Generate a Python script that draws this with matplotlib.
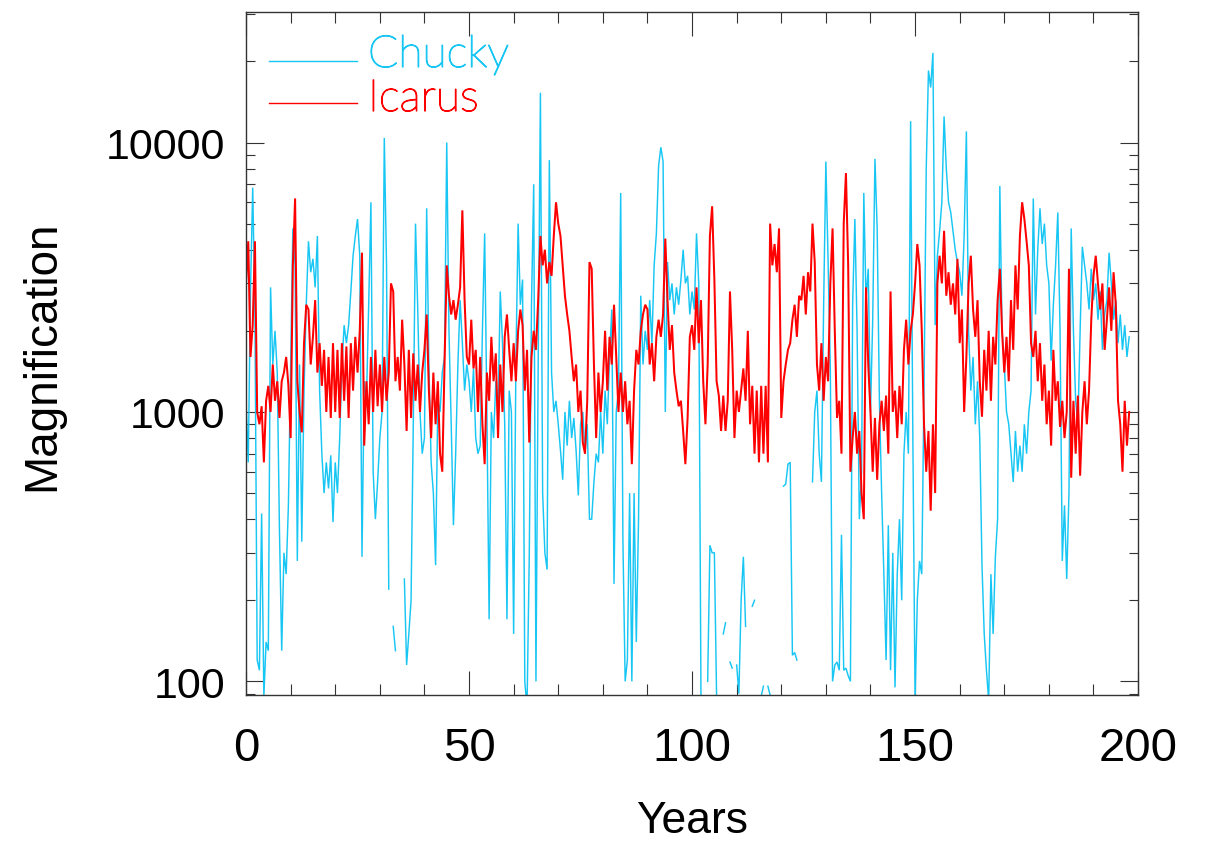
import numpy as np
import matplotlib
matplotlib.use("Agg")
import matplotlib.pyplot as plt
import matplotlib.patheffects as pe
from matplotlib import font_manager
from matplotlib.ticker import FixedLocator, FixedFormatter, LogLocator, MultipleLocator, NullFormatter

nan = float("nan")  # no measurement at this sample

# Sampling interval of both series, in years
SAMPLE_STEP = 0.5

# Magnification of "Chucky", one row per decade (samples every half year)
chucky = [
    1100, 650, 2800, 6800, 2300, 120, 110, 420, 88, 140, 130, 2900, 1500, 2000, 1400, 360, 130, 300, 250, 450,
    1500, 4800, 3500, 280, 1500, 330, 1200, 2500, 4300, 3300, 3700, 2900, 4500, 1200, 700, 500, 650, 520, 690, 390,
    650, 500, 800, 1500, 2100, 1800, 2100, 2800, 3800, 4500, 5200, 3800, 290, 1300, 1100, 2500, 6000, 600, 400, 550,
    800, 1000, 10400, 3500, 220, nan, 160, 130, nan, nan, nan, 240, 115, 150, 200, 900, 5000, 2400, 1000, 700,
    800, 5700, 1500, 650, 500, 270, 1100, 1000, 1400, 1600, 10000, 2000, 900, 380, 700, 1500, 2600, 1800, 1200, 1500,
    1300, 1000, 1450, 800, 700, 750, 2000, 4600, 1000, 170, 1000, 800, 1300, 1000, 2800, 1800, 900, 170, 1200, 1000,
    150, 1500, 5000, 2500, 3100, 100, 80, 290, 2500, 7000, 100, 1500, 15300, 500, 300, 260, 8600, 1400, 1000, 1100,
    900, 720, 560, 1000, 750, 1100, 800, 950, 720, 490, 900, 1000, 700, 900, 400, 400, 550, 700, 650, 1000,
    700, 1200, 900, 1600, 2400, 230, 1000, 1200, 6500, 330, 100, 120, 500, 100, 500, 140, 400, 2700, 1500, 2000,
    1700, 2600, 1800, 3500, 4600, 8200, 9600, 8500, 1000, 3600, 2600, 3000, 2300, 2900, 2500, 3100, 4000, 3000, 3200, 2300,
    2800, 2400, 4600, 3000, 85, 88, nan, 100, 320, 300, 300, 88, 86, nan, 150, 165, nan, 118, 112, nan,
    115, 90, 200, 290, 160, nan, nan, 190, 200, nan, nan, 88, 96, nan, 96, 89, nan, nan, nan, nan,
    nan, 530, 540, 640, 650, 125, 128, 120, nan, nan, nan, nan, nan, nan, 550, 1000, 1200, 700, 550, 2500,
    8500, 3600, 1450, 100, 115, 118, 110, 350, 110, 112, 105, 100, 2500, 5200, 2000, 400, 600, 6500, 2600, 3400,
    1000, 2200, 8700, 4800, 1100, 500, 250, 120, 380, 110, 300, 95, 250, 400, 200, 700, 1000, 700, 12000, 800,
    85, 200, 280, 250, 1200, 8000, 18500, 16000, 21500, 2100, 3800, 4700, 6000, 12500, 8000, 6000, 5500, 4700, 4000, 3600,
    3300, 2700, 4500, 11000, 2000, 1200, 1600, 900, 1300, 800, 270, 150, 110, 85, 250, 150, 290, 400, 6900, 2000,
    1500, 1000, 900, 700, 550, 850, 600, 750, 600, 900, 700, 1000, 1200, 6200, 2300, 4000, 5700, 4200, 5000, 3500,
    3000, 1550, 2500, 3500, 5500, 2000, 280, 450, 240, 500, 4800, 2000, 1100, 900, 2000, 4100, 3500, 3000, 2400, 3400,
    2600, 3000, 2200, 2800, 1700, 2300, 2600, 3900, 3000, 2200, 2600, 1800, 2300, 1700, 2100, 1600, 1900,
]

# Magnification of "Icarus", same sampling
icarus = [
    3000, 4300, 1600, 2100, 4300, 1000, 900, 1050, 650, 1100, 1250, 1000, 1500, 1100, 1300, 950, 1300, 1400, 1600, 1250,
    800, 3500, 6200, 1300, 1000, 840, 1800, 2500, 2400, 1500, 1900, 2600, 1400, 1800, 1250, 1700, 1000, 1600, 950, 1800,
    1000, 1700, 950, 1800, 1100, 1750, 950, 1800, 1200, 1900, 1400, 2000, 3900, 750, 1300, 900, 1600, 1000, 1700, 1050,
    1500, 1000, 1600, 1100, 1400, 3000, 2800, 1300, 1600, 1200, 2200, 1500, 850, 1700, 950, 1650, 1100, 1500, 1000, 1400,
    1700, 2300, 1200, 800, 1400, 900, 1300, 700, 600, 1500, 3500, 2700, 2300, 2600, 2200, 2500, 2900, 5600, 2600, 1600,
    1500, 2200, 1450, 1700, 1000, 1600, 900, 640, 1400, 1100, 1900, 1300, 1650, 800, 1500, 1000, 1900, 2300, 1700, 1300,
    1800, 1300, 2000, 2400, 2100, 1200, 1700, 770, 1600, 2000, 1700, 2600, 4500, 3500, 4000, 3000, 3600, 3200, 4500, 6000,
    5000, 4500, 3500, 2700, 2300, 2000, 1600, 1300, 1500, 1000, 1200, 770, 700, 1100, 3600, 3400, 1500, 800, 1400, 1000,
    1300, 2000, 1200, 1900, 1500, 2500, 1600, 1000, 1400, 1000, 1300, 900, 1100, 640, 1200, 1700, 1500, 2000, 2300, 2500,
    2400, 1500, 1800, 1300, 1900, 2200, 1900, 2300, 4400, 2600, 1700, 2100, 1400, 1200, 1050, 1100, 850, 640, 950, 1900,
    2100, 1700, 2900, 1800, 2600, 1300, 900, 1500, 4500, 5800, 3100, 1300, 1150, 850, 1150, 850, 1100, 2800, 1700, 800,
    1200, 1000, 1200, 1450, 1100, 2000, 900, 1250, 700, 1200, 650, 1250, 700, 1250, 650, 5000, 3500, 4200, 3300, 4800,
    950, 1300, 1500, 1700, 1800, 2200, 2500, 1900, 2700, 2600, 3200, 2300, 3300, 2800, 5000, 3600, 1500, 1200, 1800, 1100,
    1600, 1300, 3000, 4800, 2000, 950, 1100, 700, 5000, 7700, 3500, 600, 800, 1000, 700, 850, 500, 400, 2900, 1500,
    1000, 600, 950, 560, 900, 1100, 850, 1150, 700, 2800, 1000, 1200, 800, 1250, 900, 1700, 2200, 1500, 2000, 2300,
    3000, 4200, 3500, 2000, 900, 600, 850, 430, 900, 500, 3000, 3800, 3000, 4700, 2700, 3300, 2500, 3000, 2300, 3700,
    1800, 2400, 1000, 1600, 3000, 3800, 2400, 1900, 2600, 1300, 960, 1700, 1200, 2000, 1100, 1900, 1500, 2600, 3400, 2000,
    1400, 1900, 1300, 2600, 1700, 3500, 2400, 4500, 6000, 5200, 4300, 3500, 1800, 1600, 2000, 1300, 1800, 1100, 1500, 900,
    1200, 750, 1700, 1100, 1300, 880, 1100, 800, 1000, 3400, 570, 1100, 700, 1150, 580, 1000, 1300, 900, 1200, 2200,
    3200, 3800, 3000, 2400, 3000, 1700, 2200, 2900, 2000, 3300, 2500, 1100, 900, 600, 1100, 750, 1000,
]

series_names = ["Chucky", "Icarus"]
x_tick_values = [0, 50, 100, 150, 200]
y_tick_values = [100, 1000, 10000]
y_tick_labels = ["100", "1000", "10000"]

CYAN = "#18C6F4"
RED = "#FF0000"


def installed(name):
    return any(f.name == name for f in font_manager.fontManager.ttflist)


SANS = "Liberation Sans" if installed("Liberation Sans") else "DejaVu Sans"
THIN = "Lato" if installed("Lato") else SANS

years = np.arange(len(chucky)) * SAMPLE_STEP
chucky_arr = np.array(chucky, dtype=float)
icarus_arr = np.array(icarus, dtype=float)

fig = plt.figure(figsize=(12.06, 8.45), dpi=100)
ax = fig.add_axes([0.204, 0.1763, 0.7397, 0.8083])

ax.plot(years, chucky_arr, color=CYAN, lw=1.05, solid_joinstyle="miter")
ax.plot(years, icarus_arr, color=RED, lw=1.45, solid_joinstyle="miter")

ax.set_yscale("log")
ax.set_xlim(0, 200)
ax.set_ylim(89, 30500)

ax.xaxis.set_major_locator(FixedLocator(x_tick_values))
ax.xaxis.set_minor_locator(MultipleLocator(10))
ax.yaxis.set_major_locator(FixedLocator(y_tick_values))
ax.yaxis.set_major_formatter(FixedFormatter(y_tick_labels))
ax.yaxis.set_minor_locator(LogLocator(base=10, subs=np.arange(2, 10)))
ax.yaxis.set_minor_formatter(NullFormatter())

for side in ax.spines.values():
    side.set_color("#333333")
    side.set_linewidth(1.0)

ax.tick_params(axis="x", which="major", direction="in", length=17, width=0.8,
               top=True, bottom=True, pad=22, colors="#333333", labelcolor="black")
ax.tick_params(axis="x", which="minor", direction="in", length=8, width=0.8,
               top=True, bottom=True, colors="#333333")
ax.tick_params(axis="y", which="major", direction="in", length=13, width=0.8,
               left=True, right=True, pad=15, colors="#333333", labelcolor="black")
ax.tick_params(axis="y", which="minor", direction="in", length=6.5, width=0.8,
               left=True, right=True, colors="#333333")

for lab in ax.get_xticklabels():
    lab.set_fontfamily(SANS)
    lab.set_fontsize(34)
for lab in ax.get_yticklabels():
    lab.set_fontfamily(SANS)
    lab.set_fontsize(31)

fig.text(692 / 1206, 1 - 822 / 845, "Years", ha="center", va="center",
         fontsize=32, family=SANS)
fig.text(42 / 1206, 1 - 356 / 845, "Magnification", ha="center", va="center",
         rotation=90, fontsize=33, family=SANS)

# Legend drawn as line samples with coloured names beside them
for name, colour, y_line, y_text in [(series_names[0], CYAN, 62, 68),
                                     (series_names[1], RED, 104, 112)]:
    fig.add_artist(plt.Line2D([269 / 1206, 357 / 1206], [1 - y_line / 845] * 2,
                              color=colour, lw=1.0))
    fig.text(368 / 1206, 1 - y_text / 845, name, color=colour,
             fontsize=32, family=THIN, fontweight="light", va="baseline", ha="left",
             path_effects=[pe.withStroke(linewidth=0.9, foreground=colour)])

fig.savefig("out.png", dpi=100)
